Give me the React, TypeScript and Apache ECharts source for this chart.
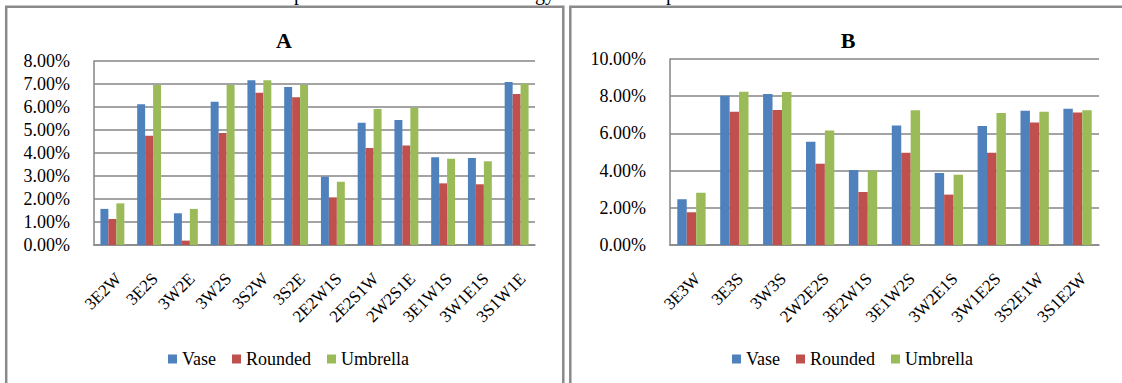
import React, { useEffect, useRef } from "react";
import * as echarts from "echarts";

const seriesNames = ["Vase", "Rounded", "Umbrella"];
const colors = ["#4F81BD", "#C0504D", "#9BBB59"];

const catsA = ["3E2W", "3E2S", "3W2E", "3W2S", "3S2W", "3S2E", "2E2W1S", "2E2S1W", "2W2S1E", "3E1W1S", "3W1E1S", "3S1W1E"];
const vaseA = [1.57, 6.12, 1.38, 6.23, 7.16, 6.87, 2.97, 5.32, 5.43, 3.81, 3.78, 7.09];
const roundedA = [1.13, 4.75, 0.19, 4.87, 6.62, 6.42, 2.07, 4.22, 4.33, 2.68, 2.64, 6.57];
const umbrellaA = [1.81, 6.96, 1.57, 6.96, 7.16, 6.96, 2.75, 5.91, 5.97, 3.75, 3.64, 7.01];

const catsB = ["3E3W", "3E3S", "3W3S", "2W2E2S", "3E2W1S", "3E1W2S", "3W2E1S", "3W1E2S", "3S2E1W", "3S1E2W"];
const vaseB = [2.46, 8.03, 8.12, 5.55, 4.03, 6.43, 3.87, 6.40, 7.22, 7.33];
const roundedB = [1.76, 7.17, 7.26, 4.37, 2.85, 4.96, 2.71, 4.96, 6.59, 7.13];
const umbrellaB = [2.81, 8.24, 8.23, 6.16, 4.00, 7.24, 3.78, 7.10, 7.17, 7.24];

const FONT = "Liberation Serif";
const GRAY = "#868686";

export default function App() {
  const ref = useRef<HTMLDivElement>(null);
  useEffect(() => {
    if (!ref.current) return;
    const chart = echarts.init(ref.current, undefined, { renderer: "svg" });
    const dataA = [vaseA, roundedA, umbrellaA];
    const dataB = [vaseB, roundedB, umbrellaB];
    const xAxisBase = (gi: number, data: string[]) => ({
      type: "category",
      gridIndex: gi,
      data,
      axisLine: { show: true, lineStyle: { color: GRAY, width: 1.5 } },
      axisTick: { show: false },
      axisLabel: {
        rotate: 45,
        interval: 0,
        margin: 25,
        align: "right",
        verticalAlign: "top",
        fontSize: 17,
        color: "#000",
        fontFamily: FONT,
      },
    });
    const yAxisBase = (gi: number, max: number, interval: number) => ({
      type: "value",
      gridIndex: gi,
      min: 0,
      max,
      interval,
      axisLine: { show: true, lineStyle: { color: GRAY, width: 1.5 } },
      axisTick: { show: false },
      splitLine: { show: true, lineStyle: { color: GRAY, width: 1.5 } },
      axisLabel: {
        margin: 24,
        fontSize: 18,
        color: "#000",
        fontFamily: FONT,
        formatter: (v: number) => v.toFixed(2) + "%",
      },
    });
    const series: any[] = [];
    seriesNames.forEach((n, i) => {
      series.push({
        type: "bar",
        name: n,
        xAxisIndex: 0,
        yAxisIndex: 0,
        data: dataA[i],
        itemStyle: { color: colors[i] },
        barGap: "0%",
        barCategoryGap: "35%",
      });
    });
    seriesNames.forEach((n, i) => {
      series.push({
        type: "bar",
        name: n,
        xAxisIndex: 1,
        yAxisIndex: 1,
        data: dataB[i],
        itemStyle: { color: colors[i] },
        barGap: "0%",
        barCategoryGap: "34%",
      });
    });
    const legendBase = (left: number) => ({
      left,
      top: 345,
      data: seriesNames,
      icon: "rect",
      itemWidth: 9,
      itemHeight: 9,
      itemGap: 16,
      selectedMode: false,
      textStyle: { fontSize: 18, color: "#000", fontFamily: FONT },
    });
    chart.setOption({
      animation: false,
      textStyle: { fontFamily: FONT },
      grid: [
        { left: 94, top: 61, width: 441, height: 184 },
        { left: 670, top: 59, width: 429, height: 186 },
      ],
      xAxis: [xAxisBase(0, catsA), xAxisBase(1, catsB)],
      yAxis: [yAxisBase(0, 8, 1), yAxisBase(1, 10, 2)],
      legend: [legendBase(163), legendBase(727)],
      series,
      graphic: [
        {
          type: "rect",
          shape: { x: 6.2, y: 6.7, width: 557.1, height: 420 },
          style: { fill: "none", stroke: "#8a8a8a", lineWidth: 2.5 },
          silent: true,
        },
        {
          type: "rect",
          shape: { x: 570.3, y: 6.7, width: 600, height: 420 },
          style: { fill: "none", stroke: "#8a8a8a", lineWidth: 2.5 },
          silent: true,
        },
        {
          type: "text",
          x: 284,
          y: 40,
          style: { text: "A", fontFamily: FONT, fontWeight: "bold", fontSize: 22, fill: "#000", align: "center", verticalAlign: "middle" },
        },
        {
          type: "text",
          x: 848,
          y: 40,
          style: { text: "B", fontFamily: FONT, fontWeight: "bold", fontSize: 22, fill: "#000", align: "center", verticalAlign: "middle" },
        },
        {
          type: "text",
          x: 299,
          y: -7,
          style: { text: "p", fontFamily: FONT, fontSize: 20, fill: "#000", align: "center", verticalAlign: "middle" },
        },
        {
          type: "text",
          x: 545,
          y: -7,
          style: { text: "gy", fontFamily: FONT, fontSize: 20, fill: "#000", align: "center", verticalAlign: "middle" },
        },
        {
          type: "text",
          x: 671,
          y: -7,
          style: { text: "p", fontFamily: FONT, fontSize: 20, fill: "#000", align: "center", verticalAlign: "middle" },
        },
      ],
    });
    return () => chart.dispose();
  }, []);
  return (
    <div
      ref={ref}
      style={{ position: "absolute", left: 0, top: 0, width: 1122, height: 383, background: "#fff" }}
    />
  );
}
